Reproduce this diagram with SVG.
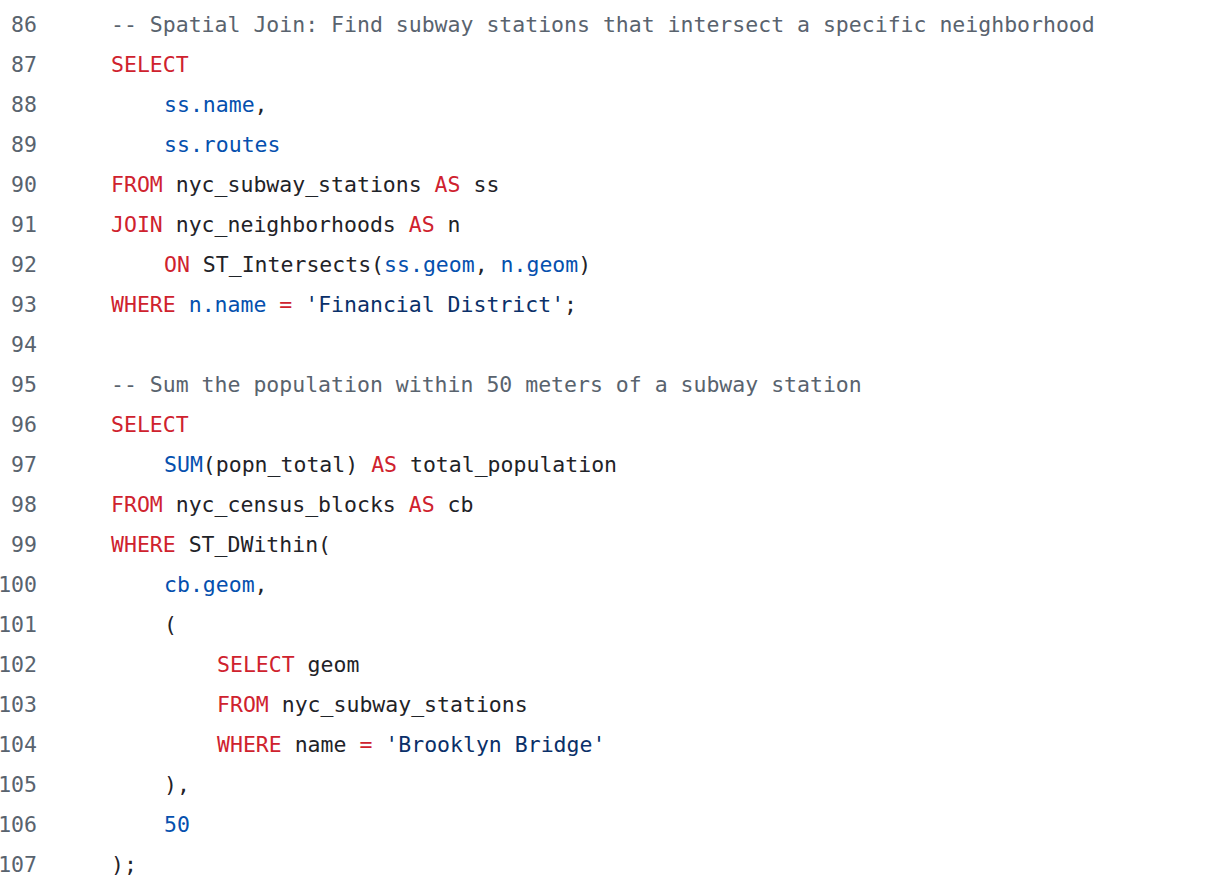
<svg xmlns="http://www.w3.org/2000/svg" width="1212" height="882" viewBox="0 0 1212 882">
<style>
text{font-family:"DejaVu Sans Mono","Liberation Mono",monospace;font-size:21.5px;fill:#1f2328;white-space:pre}
.n{fill:#59636e;text-anchor:end}
.k{fill:#cf222e}.b{fill:#0550ae}.s{fill:#0a3069}.c{fill:#59636e}.o{fill:#0550ae}
</style>
<rect width="1212" height="882" fill="#ffffff"/>
<g id="linenos">
<text class="n" x="37" y="32">86</text><text class="n" x="37" y="72">87</text><text class="n" x="37" y="112">88</text><text class="n" x="37" y="152">89</text><text class="n" x="37" y="192">90</text><text class="n" x="37" y="232">91</text><text class="n" x="37" y="272">92</text><text class="n" x="37" y="312">93</text><text class="n" x="37" y="352">94</text><text class="n" x="37" y="392">95</text><text class="n" x="37" y="432">96</text><text class="n" x="37" y="472">97</text><text class="n" x="37" y="512">98</text><text class="n" x="37" y="552">99</text><text class="n" x="37" y="592">100</text><text class="n" x="37" y="632">101</text><text class="n" x="37" y="672">102</text><text class="n" x="37" y="712">103</text><text class="n" x="37" y="752">104</text><text class="n" x="37" y="792">105</text><text class="n" x="37" y="832">106</text><text class="n" x="37" y="872">107</text>
</g>
<g id="code">
<text x="111" y="32" class="c" xml:space="preserve">-- Spatial Join: Find subway stations that intersect a specific neighborhood</text>
<text x="111" y="72" class="k">SELECT</text>
<text x="164" y="112"><tspan class="b">ss.name</tspan>,</text>
<text x="164" y="152"><tspan class="b">ss.routes</tspan></text>
<text x="111" y="192" xml:space="preserve"><tspan class="k">FROM</tspan> nyc_subway_stations <tspan class="k">AS</tspan> ss</text>
<text x="111" y="232" xml:space="preserve"><tspan class="k">JOIN</tspan> nyc_neighborhoods <tspan class="k">AS</tspan> n</text>
<text x="164" y="272" xml:space="preserve"><tspan class="k">ON</tspan> ST_Intersects(<tspan class="b">ss.geom</tspan>, <tspan class="b">n.geom</tspan>)</text>
<text x="111" y="312" xml:space="preserve"><tspan class="k">WHERE</tspan> <tspan class="b">n.name</tspan> <tspan class="k">=</tspan> <tspan class="s">'Financial District'</tspan>;</text>
<text x="111" y="392" class="c" xml:space="preserve">-- Sum the population within 50 meters of a subway station</text>
<text x="111" y="432" class="k">SELECT</text>
<text x="164" y="472" xml:space="preserve"><tspan class="b">SUM</tspan>(popn_total) <tspan class="k">AS</tspan> total_population</text>
<text x="111" y="512" xml:space="preserve"><tspan class="k">FROM</tspan> nyc_census_blocks <tspan class="k">AS</tspan> cb</text>
<text x="111" y="552" xml:space="preserve"><tspan class="k">WHERE</tspan> ST_DWithin(</text>
<text x="164" y="592"><tspan class="b">cb.geom</tspan>,</text>
<text x="164" y="632">(</text>
<text x="217" y="672" xml:space="preserve"><tspan class="k">SELECT</tspan> geom</text>
<text x="217" y="712" xml:space="preserve"><tspan class="k">FROM</tspan> nyc_subway_stations</text>
<text x="217" y="752" xml:space="preserve"><tspan class="k">WHERE</tspan> name <tspan class="k">=</tspan> <tspan class="s">'Brooklyn Bridge'</tspan></text>
<text x="164" y="792">),</text>
<text x="164" y="832" class="b">50</text>
<text x="111" y="872">);</text>
</g>
</svg>
